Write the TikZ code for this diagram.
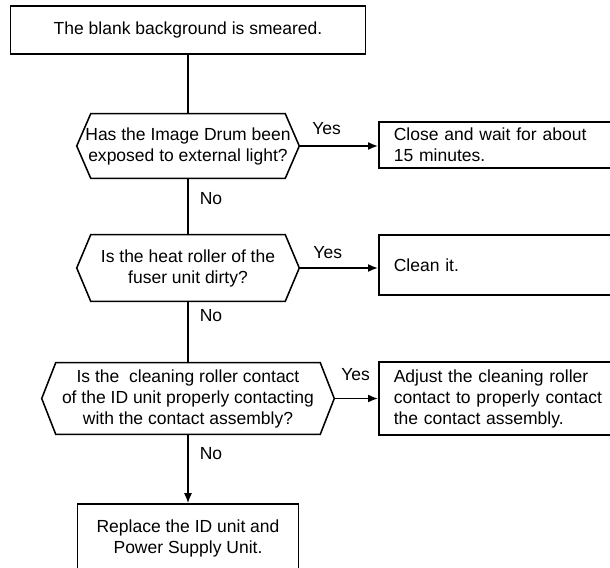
\documentclass[tikz,border=0pt]{standalone}
\usepackage{fontspec}
\setmainfont{Liberation Sans}
\usetikzlibrary{arrows.meta}

\tikzset{
  boxline/.style={draw=black, line width=1.1pt},
  stepbox/.style={boxline, rectangle, inner sep=0pt, align=center, font=\fontsize{12.45pt}{14.94pt}\selectfont},
  askbox/.style={rectangle, inner sep=0pt, align=center, font=\fontsize{12.45pt}{14.94pt}\selectfont},
  fixbox/.style={boxline, rectangle, anchor=west, inner xsep=0.375cm, inner ysep=0pt, text width=5.6cm, align=left, font=\fontsize{12.45pt}{14.94pt}\selectfont},
  lbl/.style={inner sep=1pt, font=\fontsize{12.45pt}{14.94pt}\selectfont},
  flow/.style={line width=1.1pt},
  flowarrow/.style={flow, -{Latex[length=0.25cm, width=0.2cm]}}
}

\begin{document}
\begin{tikzpicture}[x=1cm, y=1cm]

% Page frame
\useasboundingbox (0, 0) rectangle (15.25, 14.175);
\clip (0, 0) rectangle (15.25, 14.175);

% Starting symptom
\node[stepbox, minimum width=8.875cm, minimum height=1.2cm] (start) at (4.7, 13.425) {The blank background is smeared.};

% Questions
\node[askbox, minimum width=5.55cm, minimum height=1.6cm] (q1) at (4.7, 10.525) {Has the Image Drum been\\exposed to external light?};
\node[askbox, minimum width=5.55cm, minimum height=1.65cm] (q2) at (4.7, 7.475) {Is the heat roller of the\\fuser unit dirty?};
\node[askbox, minimum width=7.3cm, minimum height=1.775cm] (q3) at (4.7, 4.2125) {Is the\ \ cleaning roller contact\\of the ID unit properly contacting\\with the contact assembly?};

% Hexagon outlines round the questions
\foreach \q in {q1, q2, q3}
  \draw[boxline] ([xshift=0.35cm]\q.north west) -- ([xshift=-0.35cm]\q.north east) -- (\q.east)
    -- ([xshift=-0.35cm]\q.south east) -- ([xshift=0.35cm]\q.south west) -- (\q.west) -- cycle;

% Fixes on the right
\node[fixbox, minimum height=1.15cm] (fix1) at (9.45, 10.55) {Close and wait for about\\15 minutes.};
\node[fixbox, minimum height=1.5cm] (fix2) at (9.45, 7.55) {Clean it.};
\node[fixbox, minimum height=1.825cm] (fix3) at (9.45, 4.2125) {Adjust the cleaning roller\\contact to properly contact\\the contact assembly.};

% Last step
\node[stepbox, minimum width=5.525cm, minimum height=1.7cm] (last) at (4.7, 0.725) {Replace the ID unit and\\Power Supply Unit.};

% Main line
\draw[flow] (start) -- (q1);
\draw[flow] (q1) -- node[lbl, pos=0, anchor=north west, xshift=0.24cm, yshift=-0.3cm] {No} (q2);
\draw[flow] (q2) -- node[lbl, pos=0, anchor=north west, xshift=0.24cm, yshift=-0.16cm] {No} (q3);
\draw[flowarrow] (q3) -- node[lbl, pos=0, anchor=north west, xshift=0.24cm, yshift=-0.28cm] {No} (last);

% Yes branches
\draw[flowarrow] (q1) -- node[lbl, pos=0, anchor=south west, xshift=0.27cm, yshift=0.235cm] {Yes} (q1 -| fix1.west);
\draw[flowarrow] (q2) -- node[lbl, pos=0, anchor=south west, xshift=0.3cm, yshift=0.185cm] {Yes} (q2 -| fix2.west);
\draw[flowarrow] (q3) -- node[lbl, pos=0, anchor=south west, xshift=0.12cm, yshift=0.385cm] {Yes} (q3 -| fix3.west);

\end{tikzpicture}
\end{document}
